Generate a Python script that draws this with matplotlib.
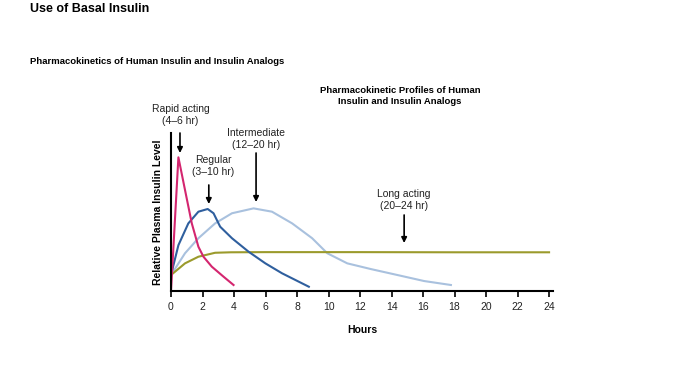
import matplotlib
matplotlib.use("Agg")
import matplotlib.pyplot as plt

# Data (relative level 0-100, hours)
rapid_x = [0, 0.47, 0.89, 1.32, 1.74, 2.06, 2.59, 3.33, 3.97]
rapid_y = [0, 84.6, 63.9, 42.8, 28.0, 21.7, 15.4, 9.1, 3.8]

regular_x = [0, 0.47, 1.1, 1.74, 2.33, 2.7, 3.12, 3.87, 4.92, 5.99, 7.05, 8.11, 8.75]
regular_y = [10.1, 29.0, 42.8, 50.2, 51.9, 49.2, 40.7, 33.4, 24.9, 17.5, 11.2, 5.9, 2.7]

inter_x = [0, 0.89, 1.74, 2.8, 3.87, 5.24, 6.41, 7.69, 8.96, 9.92, 11.19, 12.68, 14.38, 16.07, 17.77]
inter_y = [10.1, 23.9, 33.4, 42.8, 49.2, 52.3, 50.2, 42.8, 33.4, 23.9, 17.5, 13.9, 10.1, 6.3, 3.8]

long_x = [0, 0.89, 1.74, 2.8, 3.8, 6.0, 12.0, 18.0, 24.0]
long_y = [10.1, 17.5, 21.7, 24.2, 24.5, 24.6, 24.6, 24.5, 24.5]

xticks = list(range(0, 25, 2))

plt.rcParams['font.family'] = ['Liberation Sans', 'DejaVu Sans']

fig = plt.figure(figsize=(7, 3.75), dpi=100)
ax = fig.add_axes([171/700, 1-291/375, (553-171)/700, (291-133)/375])

ax.plot(inter_x, inter_y, color='#a9c1de', lw=1.5)
ax.plot(long_x, long_y, color='#9b9a2c', lw=1.5)
ax.plot(regular_x, regular_y, color='#2f5f9e', lw=1.5)
ax.plot(rapid_x, rapid_y, color='#d4266f', lw=1.5)

ax.set_xlim(0, 24.25)
ax.set_ylim(0, 100)
ax.set_xticks(xticks)
ax.set_xticklabels([str(t) for t in xticks], fontsize=7.5, color='#222222')
ax.set_yticks([])
ax.tick_params(axis='x', direction='out', length=4, width=1.2, pad=4)
for s in ['top', 'right']:
    ax.spines[s].set_visible(False)
ax.spines['left'].set_linewidth(1.5)
ax.spines['bottom'].set_linewidth(1.5)

ax.set_xlabel('Hours', fontsize=7.5, fontweight='bold', labelpad=9)
ax.set_ylabel('Relative Plasma Insulin Level', fontsize=7.5, fontweight='bold', labelpad=6)

def lvl(py):
    return (291 - py) / 158 * 100

def arrow(xh, y0, y1):
    ax.annotate('', xy=(xh, lvl(y1)), xytext=(xh, lvl(y0)),
                arrowprops=dict(arrowstyle='-|>', color='black', lw=1.2,
                                mutation_scale=8, shrinkA=0, shrinkB=0),
                annotation_clip=False)

arrow(0.57, 133, 153)
arrow(2.4, 185, 204)
arrow(5.4, 153, 202)
arrow(14.8, 215, 243)

def label(xh, py, txt):
    ax.text(xh, lvl(py), txt, ha='center', va='center', fontsize=7.5,
            linespacing=1.35, clip_on=False, color='#222222')

label(0.6, 115, 'Rapid acting\n(4–6 hr)')
label(2.7, 166, 'Regular\n(3–10 hr)')
label(5.4, 139, 'Intermediate\n(12–20 hr)')
label(14.8, 200, 'Long acting\n(20–24 hr)')

fig.text(30/700, 1-9/375, 'Use of Basal Insulin', fontsize=9, fontweight='bold',
         ha='left', va='center')
fig.text(30/700, 1-62/375, 'Pharmacokinetics of Human Insulin and Insulin Analogs',
         fontsize=6.8, fontweight='bold', ha='left', va='center')
fig.text(400/700, 1-96/375, 'Pharmacokinetic Profiles of Human\nInsulin and Insulin Analogs',
         fontsize=6.8, fontweight='bold', ha='center', va='center', linespacing=1.4)

fig.savefig('out.png', dpi=100)
